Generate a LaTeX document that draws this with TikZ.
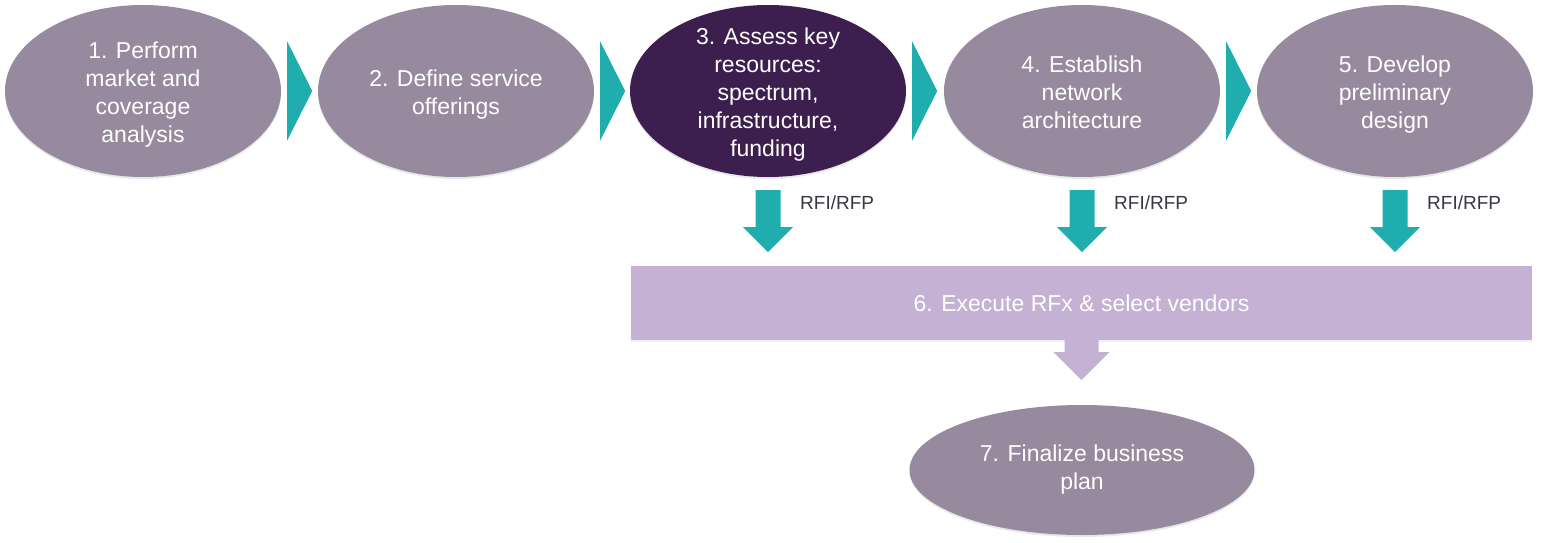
\documentclass[tikz,border=0pt]{standalone}
\usepackage{fontspec}
\setmainfont{Liberation Sans}
\usetikzlibrary{shapes.geometric,calc,shadows}
\definecolor{ellgray}{HTML}{978A9E}
\definecolor{elldark}{HTML}{3D1F4F}
\definecolor{tealc}{HTML}{20ADAD}
\definecolor{rectc}{HTML}{C5B1D3}
\definecolor{labelc}{HTML}{3A3540}
\newcommand{\mtext}[2][-10pt]{\raisebox{#1}[0pt][0pt]{\begin{tabular}[c]{@{}c@{}}#2\end{tabular}}}
\tikzset{
  stepell/.style={ellipse, fill=ellgray, minimum width=276pt, minimum height=172pt, inner sep=0pt,
    text=white, align=center, font=\fontsize{23}{28}\selectfont,
    drop shadow={opacity=0.18, shadow xshift=0pt, shadow yshift=-2pt}},
  darkell/.style={stepell, fill=elldark},
  rfxbox/.style={rectangle, fill=rectc, minimum width=901pt, minimum height=74pt, inner sep=0pt,
    text=white, font=\fontsize{23}{28}\selectfont,
    drop shadow={opacity=0.12, shadow xshift=0pt, shadow yshift=-2pt}},
  rfilabel/.style={text=labelc, font=\fontsize{19}{22}\selectfont, inner sep=0pt, anchor=west},
  chevron/.style={fill=tealc},
  downarr/.style={fill=tealc},
  lightarr/.style={fill=rectc},
}
\begin{document}
\begin{tikzpicture}[x=1pt,y=-1pt]
\useasboundingbox (0,0) rectangle (1542,543);
% top row
\node[stepell] (e1) at (143,91) {\mtext{1. Perform\\market and\\coverage\\analysis}};
\node[stepell] (e2) at (456,91) {\mtext{2. Define service\\offerings}};
\node[darkell] (e3) at (768,91) {\mtext{3. Assess key\\resources:\\spectrum,\\infrastructure,\\funding}};
\node[stepell] (e4) at (1082,91) {\mtext{4. Establish\\network\\architecture}};
\node[stepell] (e5) at (1395,91) {\mtext{5. Develop\\preliminary\\design}};
% chevrons between steps
\foreach \a in {1,2,3,4}{
  \fill[chevron] ($(e\a.east)+(6,-49.5)$) -- ($(e\a.east)+(31,0)$) -- ($(e\a.east)+(6,49.5)$) -- cycle;
}
% RFx box
\node[rfxbox] (r6) at (1081.5,303) {6. Execute RFx \& select vendors};
% step 7
\node[stepell, minimum width=345pt, minimum height=130pt] (e7) at (1082,470) {\mtext[-6pt]{7. Finalize business\\plan}};
% down arrows RFI/RFP
\foreach \a in {3,4,5}{
  \coordinate (top\a) at ($(e\a.south)+(0,13)$);
  \fill[downarr] ($(top\a)+(-12.5,0)$) -- ($(top\a)+(12.5,0)$) -- ($(top\a)+(12.5,37)$) -- ($(top\a)+(25,37)$)
     -- ($(top\a)+(0,62)$) -- ($(top\a)+(-25,37)$) -- ($(top\a)+(-12.5,37)$) -- cycle;
  \node[rfilabel] (lab\a) at ($(top\a)+(32,13)$) {RFI/RFP};
}
% arrow from RFx box to step 7
\fill[lightarr] ($(r6.south)+(-17,-1)$) -- ($(r6.south)+(17,-1)$) -- ($(r6.south)+(17,12)$) -- ($(r6.south)+(28,12)$)
   -- ($(r6.south)+(0,40)$) -- ($(r6.south)+(-28,12)$) -- ($(r6.south)+(-17,12)$) -- cycle;
\end{tikzpicture}
\end{document}
